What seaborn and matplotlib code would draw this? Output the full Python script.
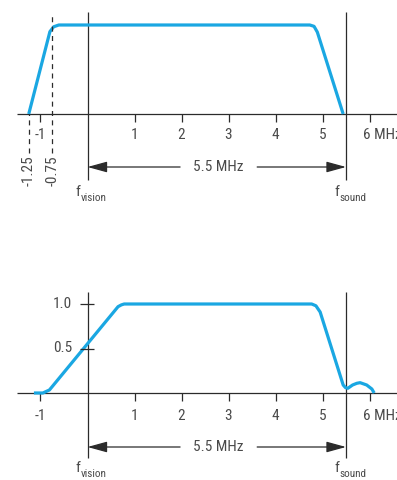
import matplotlib
matplotlib.use("Agg")
import matplotlib.pyplot as plt
from matplotlib import font_manager
import seaborn as sns
import pandas as pd

# ---------------- data ----------------
top_freq = [-1.25, -0.80, -0.72, -0.61, 4.73, 4.82, 4.89, 5.44]
top_resp = [0.0, 0.925, 0.98, 1.0, 1.0, 0.985, 0.92, 0.0]

bot_freq = [-1.14, -0.95, -0.81, 0.65, 0.72, 0.78, 4.77, 4.86, 4.95, 5.44, 5.49,
            5.54, 5.64, 5.73, 5.80, 5.94, 6.05, 6.10]
bot_resp = [0.0, 0.0, 0.034, 0.97, 0.99, 1.0, 1.0, 0.98, 0.91, 0.09, 0.06,
            0.053, 0.09, 0.109, 0.116, 0.09, 0.045, 0.0]

x_ticks = [-1, 1, 2, 3, 4, 5]
x_ticklabels = ["-1", "1", "2", "3", "4", "5"]
last_tick = 6
last_ticklabel = "6 MHz"
y_ticks = [1.0, 0.5]
y_ticklabels = ["1.0", "0.5"]
dashed_marks = [-1.25, -0.75]
dashed_labels = ["-1.25", "-0.75"]
f_vision = 0.0
f_sound = 5.5
span_label = "5.5 MHz"

# ---------------- style ----------------
sns.set_style("white")
installed = {f.name for f in font_manager.fontManager.ttflist}
prefs = ["Liberation Sans Narrow", "DejaVu Sans Condensed", "Roboto Condensed",
         "Open Sans Condensed", "Liberation Sans", "DejaVu Sans"]
chosen = [p for p in prefs if p in installed]
plt.rcParams["font.family"] = chosen + ["DejaVu Sans"]
NARROW = chosen[0] in ("Liberation Sans Narrow", "Roboto Condensed", "Open Sans Condensed")
FS = 11 if NARROW else 9.5
FSS = 8 if NARROW else 7

BLUE = "#1aa7e2"
LINE = "#2b2b2b"
TXT = "#4a4a4a"
W, H = 397, 480
fig = plt.figure(figsize=(W / 100, H / 100), dpi=100)

X0PX, SCALE = 87.5, 47.0
xlim = ((0 - X0PX) / SCALE, (W - X0PX) / SCALE)


def make_axes(top_px, bottom_px, axis_px):
    ax = fig.add_axes([0, 1 - bottom_px / H, 1, (bottom_px - top_px) / H])
    ax.set_xlim(*xlim)
    ax.set_ylim((axis_px - bottom_px) / 89.0, (axis_px - top_px) / 89.0)
    ax.axis("off")
    return ax


def common(ax, freq, resp, vtop, vbot, label_y, arrow_y, f_y):
    # axis lines
    ax.plot([-1.5, xlim[1]], [0, 0], color=LINE, lw=0.9, solid_capstyle="butt")
    for xv in (f_vision, f_sound):
        ax.plot([xv, xv], [vbot, vtop], color=LINE, lw=0.9, solid_capstyle="butt")
    ax.vlines(x_ticks + [last_tick], 0, -0.09, color=LINE, lw=0.9)
    for v, lab in zip(x_ticks, x_ticklabels):
        ax.text(v, label_y, lab, ha="center", va="center", fontsize=FS, color=TXT)
    ax.annotate(last_ticklabel, (last_tick, label_y), xytext=(-4.7, 0),
                textcoords="offset points", ha="left", va="center",
                fontsize=FS, color=TXT)
    # curve
    df = pd.DataFrame({"f": freq, "r": resp})
    sns.lineplot(data=df, x="f", y="r", ax=ax, color=BLUE, linewidth=2.3,
                 sort=False, estimator=None)
    ax.lines[-1].set_solid_joinstyle("round")
    ax.lines[-1].set_solid_capstyle("butt")
    # span arrows
    ap = dict(arrowstyle="-|>,head_length=1.2,head_width=0.33", color=LINE,
              lw=0.9, shrinkA=0, shrinkB=0, mutation_scale=10)
    ax.annotate("", xy=(f_vision, arrow_y), xytext=(1.97, arrow_y), arrowprops=ap)
    ax.annotate("", xy=(f_sound, arrow_y), xytext=(3.61, arrow_y), arrowprops=ap)
    ax.text((f_vision + f_sound) / 2 + 0.03, arrow_y, span_label, ha="center",
            va="center", fontsize=FS, color=TXT)
    # f labels
    for xv, sub in ((f_vision, "vision"), (f_sound, "sound")):
        ax.annotate("f", (xv, f_y), xytext=(-8.5, 0), textcoords="offset points",
                    ha="left", va="baseline", fontsize=FS, color=TXT)
        ax.annotate(sub, (xv, f_y), xytext=(-5.0, -3.5), textcoords="offset points",
                    ha="left", va="baseline", fontsize=FSS, color=TXT)


# ---------------- top panel ----------------
ax1 = make_axes(0, 230, 114)
common(ax1, top_freq, top_resp, (114 - 12) / 89, (114 - 180) / 89,
       (114 - 135) / 89, (114 - 167) / 89, (114 - 196) / 89)
dash_top = [0.0, (114 - 15) / 89]
for xv, ytop, lab in zip(dashed_marks, dash_top, dashed_labels):
    ax1.plot([xv, xv], [(114 - 153) / 89, ytop], color=LINE, lw=0.9,
             linestyle=(0, (4, 3.5)))
    ax1.text(xv, (114 - 171) / 89, lab, rotation=90, ha="center", va="center",
             fontsize=FS, color=TXT)

# ---------------- bottom panel ----------------
ax2 = make_axes(250, 480, 393)
common(ax2, bot_freq, bot_resp, (393 - 292) / 89, (393 - 458) / 89,
       (393 - 416) / 89, (393 - 447) / 89, (393 - 472) / 89)
ax2.hlines(y_ticks, -0.16, 0.14, color=LINE, lw=0.9)
for v, lab in zip(y_ticks, y_ticklabels):
    ax2.text((72 - X0PX) / SCALE, v, lab, ha="right", va="center",
             fontsize=FS, color=TXT)

fig.savefig("out.png", dpi=100)
